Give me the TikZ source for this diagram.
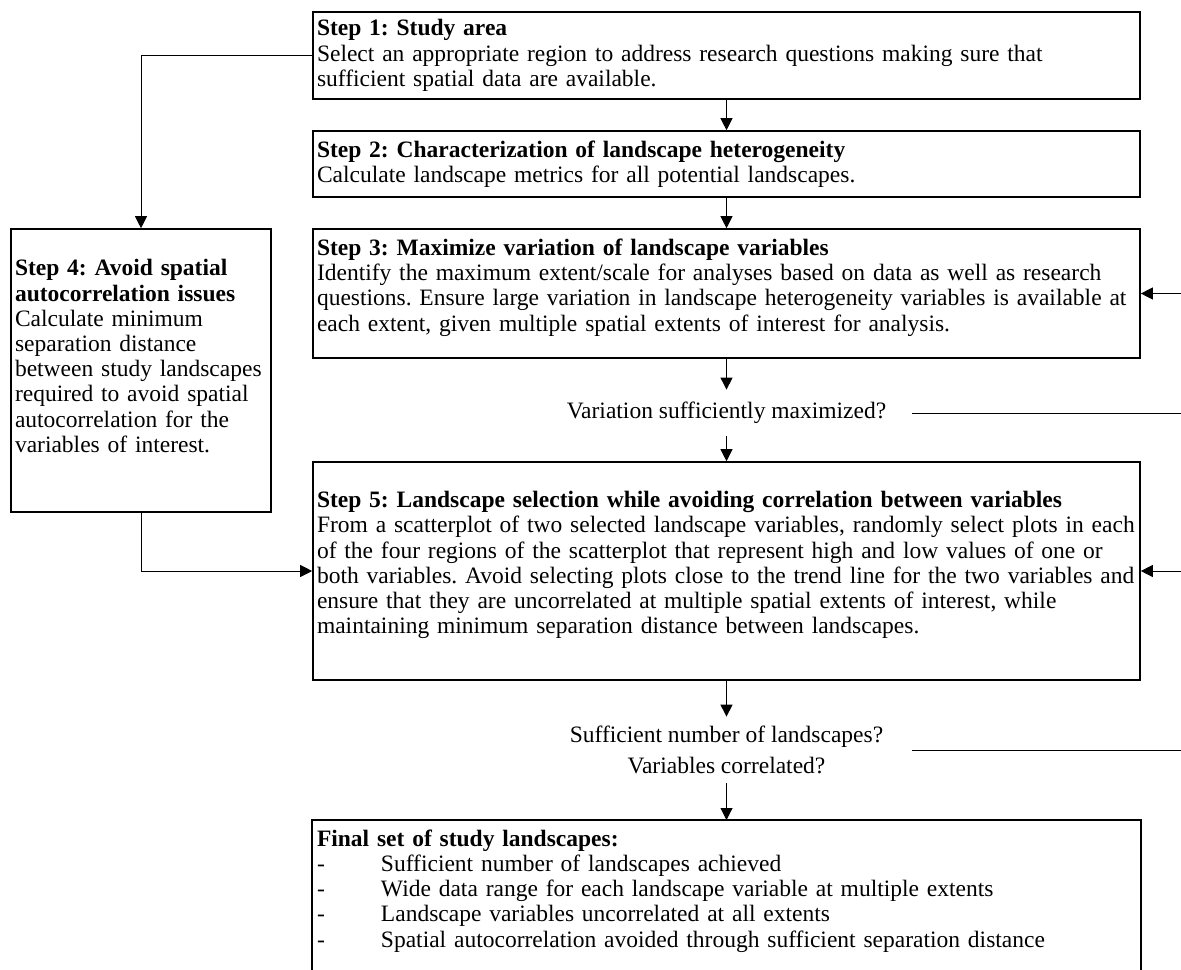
\documentclass[tikz,border=0pt]{standalone}
\usepackage{fontspec}
\setmainfont{Liberation Serif}
\usetikzlibrary{arrows.meta}
\frenchspacing
\begin{document}
\begin{tikzpicture}[x=0.5pt,y=-0.5pt,
        stepbox/.style={draw,line width=0.8pt,inner xsep=2pt,inner ysep=0pt,align=left,
            font=\fontsize{11.75}{12.6}\selectfont},
        wide/.style={stepbox,text width=409.5pt,minimum width=413.5pt},
        query/.style={inner sep=0pt,align=center,minimum width=185pt,
            font=\fontsize{11.75}{12.6}\selectfont},
        flow/.style={-{Triangle[width=6pt,length=6pt]},line width=0.5pt}]
                \useasboundingbox (0,0) rectangle (1181,969);
                \clip (0,0) rectangle (1181,969);
                \node[wide,minimum height=43.5pt] (s1) at (726.5,55.5) {\textbf{Step 1: Study area}\\
                    Select an appropriate region to address research questions making sure that\\
                    sufficient spatial data are available.};
                \node[wide,minimum height=33pt] (s2) at (726.5,164) {\textbf{Step 2: Characterization of landscape heterogeneity}\\
                    Calculate landscape metrics for all potential landscapes.};
                \node[wide,minimum height=64.5pt] (s3) at (726.5,293.5) {\textbf{Step 3: Maximize variation of landscape variables}\\
                    Identify the maximum extent/scale for analyses based on data as well as research\\
                    questions. Ensure large variation in landscape heterogeneity variables is available at\\
                    each extent, given multiple spatial extents of interest for analysis.\rule[-8.5pt]{0pt}{0pt}};
                \node[query,minimum height=23pt] (q1) at (726.5,413) {Variation sufficiently maximized?};
                \node[wide,minimum height=109pt] (s5) at (726.5,571) {\textbf{Step 5: Landscape selection while avoiding correlation between variables}\\
                    From a scatterplot of two selected landscape variables, randomly select plots in each\\
                    of the four regions of the scatterplot that represent high and low values of one or\\
                    both variables. Avoid selecting plots close to the trend line for the two variables and\\
                    ensure that they are uncorrelated at multiple spatial extents of interest, while\\
                    maintaining minimum separation distance between landscapes.\rule[-8.5pt]{0pt}{0pt}};
                \node[query,minimum height=33pt] (q2) at (726.5,750) {Sufficient number of landscapes?\\[3pt]
                    Variables correlated?};
                \node[wide,draw=none,anchor=north,inner ysep=4.5pt] (fin) at (726.5,820) {\textbf{Final set of study landscapes:}\\
                    \makebox[32pt][l]{-}Sufficient number of landscapes achieved\\
                    \makebox[32pt][l]{-}Wide data range for each landscape variable at multiple extents\\
                    \makebox[32pt][l]{-}Landscape variables uncorrelated at all extents\\
                    \makebox[32pt][l]{-}Spatial autocorrelation avoided through sufficient separation distance\rule[-40pt]{0pt}{0pt}};
                \draw[line width=0.8pt] (fin.south west) |- (fin.north east) -- (fin.south east);
                \node[stepbox,text width=126pt,minimum width=130pt,minimum height=141.5pt] (s4) at (141,370.5) {\textbf{Step 4: Avoid spatial}\\
                    \textbf{autocorrelation issues}\\
                    Calculate minimum\\
                    separation distance\\
                    between study landscapes\\
                    required to avoid spatial\\
                    autocorrelation for the\\
                    variables of interest.\rule[-14.5pt]{0pt}{0pt}};
                \coordinate (rim) at (1200,0);
                \draw[flow] (s1.south) -- (s2.north);
                \draw[flow] (s2.south) -- (s3.north);
                \draw[flow] (s3.south) -- (q1.north);
                \draw[flow] (q1.south) -- (s5.north);
                \draw[flow] (s5.south) -- (q2.north);
                \draw[flow] (q2.south) -- (fin.north);
                \draw[flow] (s1.west) -| (s4.north);
                \draw[flow] (s4.south) |- (s5.west);
                \draw[flow] (q1.east) -- (q1.east -| rim) |- (s3.east);
                \draw[flow] (q2.east) -- (q2.east -| rim) |- (s5.east);
            \end{tikzpicture}
\end{document}
